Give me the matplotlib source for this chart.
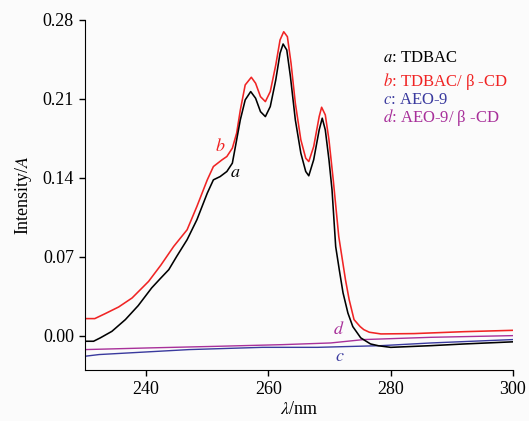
import matplotlib.pyplot as plt

plt.rcParams['font.family'] = ['Liberation Serif', 'DejaVu Serif']
plt.rcParams['mathtext.fontset'] = 'stix'

# a: TDBAC
wl_a = [230.0, 231.4, 232.5, 234.4, 236.6, 238.7, 240.9, 242.3, 243.7, 245.0, 246.7,
        248.3, 250.0, 251.0, 252.1, 253.2, 254.1, 254.6, 255.4, 256.2, 257.1, 257.9,
        258.7, 259.5, 260.3, 261.2, 261.9, 262.4, 263.0, 263.6, 264.4, 265.3, 266.1,
        266.6, 267.4, 268.3, 268.8, 269.3, 269.9, 270.4, 271.0, 271.6, 272.2, 273.0,
        273.8, 275.1, 276.7, 278.0, 280.0, 286.6, 292.0, 300.0]
abs_a = [-0.005, -0.005, -0.002, 0.0038, 0.0142, 0.0266, 0.0423, 0.0505, 0.0585, 0.0703, 0.0851,
         0.1028, 0.1264, 0.1382, 0.1411, 0.1456, 0.153, 0.1677, 0.1914, 0.2091, 0.2165, 0.2106,
         0.1987, 0.1943, 0.2032, 0.2268, 0.2505, 0.2587, 0.2534, 0.2297, 0.1914, 0.1619, 0.1456,
         0.1418, 0.156, 0.1825, 0.1929, 0.1825, 0.156, 0.1294, 0.079, 0.058, 0.038, 0.020,
         0.008, -0.002, -0.0074, -0.009, -0.0104, -0.0089, -0.0074, -0.0055]

# b: TDBAC / beta-CD
wl_b = [230.0, 231.6, 233.3, 235.5, 237.7, 240.4, 242.4, 244.5, 246.7, 248.3, 250.0,
        251.0, 252.4, 253.2, 254.1, 254.8, 255.4, 256.2, 257.2, 257.9, 258.7, 259.5,
        260.3, 261.2, 261.9, 262.5, 263.1, 263.7, 264.4, 265.3, 266.1, 266.6, 267.4,
        268.3, 268.7, 269.3, 269.9, 270.6, 271.5, 272.6, 273.2, 274.0, 275.0, 275.6,
        276.5, 278.4, 283.8, 292.0, 300.0]
abs_b = [0.0151, 0.0151, 0.0195, 0.0254, 0.0334, 0.0481, 0.0625, 0.0791, 0.0939, 0.1146, 0.1382,
         0.150, 0.1559, 0.1589, 0.1663, 0.1796, 0.200, 0.2224, 0.2292, 0.2239, 0.212, 0.2076,
         0.2165, 0.2401, 0.2623, 0.2696, 0.2652, 0.2416, 0.2062, 0.1737, 0.1574, 0.1544, 0.1677,
         0.1943, 0.2026, 0.1958, 0.1737, 0.1382, 0.088, 0.0496, 0.032, 0.0142, 0.008, 0.0053,
         0.003, 0.0015, 0.0018, 0.0035, 0.0047]

# c: AEO-9
wl_c = [230.0, 232.3, 247.0, 259.0, 268.0, 278.4, 286.6, 300.0]
abs_c = [-0.0183, -0.0168, -0.0124, -0.0104, -0.0104, -0.0089, -0.0065, -0.0035]

# d: AEO-9 / beta-CD
wl_d = [230.0, 240.5, 251.5, 262.3, 270.2, 275.6, 286.6, 300.0]
abs_d = [-0.0124, -0.0109, -0.0095, -0.008, -0.0065, -0.0035, -0.0015, 0.0]

col_a = 'black'
col_b = '#f02424'
col_c = '#3a3a9e'
col_d = '#a8309a'

fig = plt.figure(figsize=(5.29, 4.21), dpi=100, facecolor='#fbfbfb')
ax = fig.add_axes([85 / 529, 51 / 421, 428 / 529, 350 / 421])
ax.set_facecolor('#fbfbfb')

ax.plot(wl_c, abs_c, color=col_c, lw=1.0)
ax.plot(wl_d, abs_d, color=col_d, lw=1.0)
ax.plot(wl_b, abs_b, color=col_b, lw=1.15)
ax.plot(wl_a, abs_a, color=col_a, lw=1.15)

ax.set_xlim(230, 300)
ax.set_ylim(-0.0305, 0.28)
ax.set_xticks([240, 260, 280, 300])
ax.set_yticks([0.0, 0.07, 0.14, 0.21, 0.28])
ax.set_yticklabels(['0.00', '0.07', '0.14', '0.21', '0.28'])
for s in ['top', 'right']:
    ax.spines[s].set_visible(False)
ax.tick_params(direction='out', length=4.5, width=1, labelsize=13)

ax.set_xlabel(r'$\lambda$/nm', fontsize=13, labelpad=2)
ax.set_ylabel(r'Intensity/$A$', fontsize=13, labelpad=6)

# curve labels
ax.text(254.6, 0.145, r'$a$', color=col_a, fontsize=13, ha='center', va='center')
ax.text(252.1, 0.168, r'$b$', color=col_b, fontsize=13, ha='center', va='center')
ax.text(271.5, 0.0055, r'$d$', color=col_d, fontsize=13, ha='center', va='center')
ax.text(271.6, -0.0185, r'$c$', color=col_c, fontsize=13, ha='center', va='center')

# legend text
legend_items = [(r'$a$: TDBAC', col_a, 58), (r'$b$: TDBAC/ β -CD', col_b, 82),
                (r'$c$: AEO-9', col_c, 100), (r'$d$: AEO-9/ β -CD', col_d, 118)]
for txt, c, py in legend_items:
    fig.text(383 / 529, 1 - py / 421, txt, color=c, fontsize=12, ha='left', va='center')

plt.savefig('out.png', dpi=100, facecolor=fig.get_facecolor())
